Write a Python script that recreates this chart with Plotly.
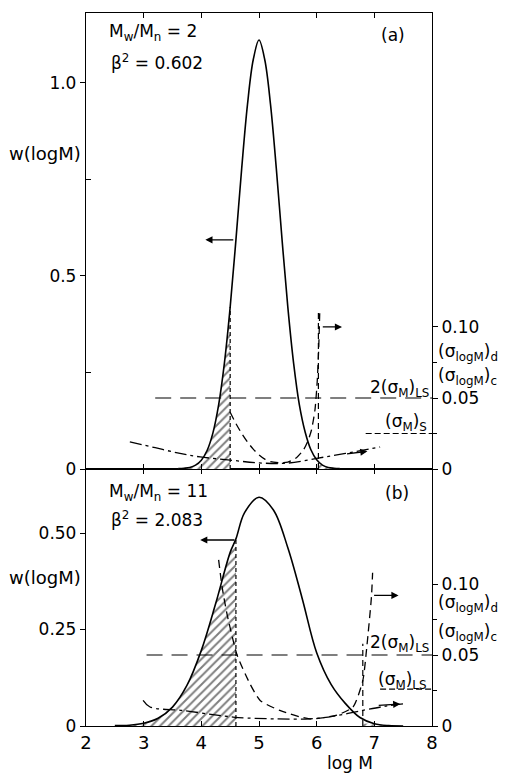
import plotly.graph_objects as go

# ---------------- data: panel (a) ----------------
logM_a = [3.6, 3.7, 3.8, 3.9, 4.0, 4.1, 4.2, 4.3, 4.4, 4.5, 4.6, 4.7, 4.8, 4.9, 5.0,
          5.1, 5.2, 5.3, 5.4, 5.5, 5.6, 5.7, 5.8, 5.9, 6.0, 6.1, 6.2, 6.3, 6.4]
w_a = [0.001, 0.002, 0.004, 0.010, 0.023, 0.048, 0.093, 0.166, 0.274, 0.419, 0.593, 0.778, 0.943, 1.059, 1.11,
       1.059, 0.943, 0.778, 0.593, 0.419, 0.274, 0.166, 0.096, 0.050, 0.024, 0.010, 0.004, 0.002, 0.001]
cut_a = [4.5, 6.03]          # lower / upper cut-off (log M)

sigd_a_x = [4.50, 4.6, 4.7, 4.8, 4.9, 5.0, 5.1, 5.2, 5.35, 5.5, 5.65, 5.77, 5.85, 5.91, 5.97, 6.01, 6.035, 6.055]
sigd_a = [0.040, 0.032, 0.025, 0.019, 0.014, 0.010, 0.007, 0.0052, 0.0044, 0.0048, 0.008, 0.0134, 0.020, 0.0275,
          0.0415, 0.062, 0.085, 0.113]
sigc_a_x = [2.76, 3.2, 3.63, 3.98, 4.5, 5.0, 5.5, 6.0, 6.5, 7.1]
sigc_a = [0.0192, 0.015, 0.011, 0.0085, 0.0063, 0.0043, 0.0042, 0.0075, 0.011, 0.0155]
hline_a_long = [3.2, 8.0, 0.05]
hline_a_short = [6.85, 8.0, 0.025]
vline_a_top = 0.11

# ---------------- data: panel (b) ----------------
logM_b = [2.5, 2.75, 3.0, 3.25, 3.5, 3.75, 4.0, 4.25, 4.5, 4.6, 4.75, 5.0, 5.25, 5.5, 5.75,
          6.0, 6.25, 6.5, 6.75, 7.0, 7.25, 7.5]
w_b = [0.001, 0.002, 0.007, 0.020, 0.049, 0.105, 0.196, 0.318, 0.450, 0.485, 0.553, 0.593, 0.560, 0.462, 0.330,
       0.190, 0.108, 0.058, 0.022, 0.006, 0.001, 0.0]
cut_b = [4.6, 6.8]

sigd_b_x = [4.30, 4.36, 4.45, 4.62, 4.84, 5.02, 5.36, 5.88, 6.35, 6.63, 6.80, 6.87, 6.95, 6.97]
sigd_b = [0.117, 0.098, 0.078, 0.050, 0.030, 0.018, 0.011, 0.005, 0.0077, 0.0134, 0.032, 0.056, 0.091, 0.108]
sigc_b_x = [2.99, 3.11, 3.68, 4.2, 4.55, 4.8, 5.3, 5.88, 6.3, 6.8, 7.2, 7.57]
sigc_b = [0.018, 0.0134, 0.011, 0.008, 0.0063, 0.0056, 0.005, 0.005, 0.007, 0.011, 0.014, 0.016]
hline_b_long = [3.05, 8.0, 0.05]
hline_b_short = [7.1, 8.0, 0.026]
vline_b_top = 0.058

x_ticks = [2, 3, 4, 5, 6, 7, 8]

FONT = "DejaVu Sans"
BLACK = "black"
HATCH = dict(shape="/", fgcolor=BLACK, bgcolor="white", size=6, solidity=0.33)

fig = go.Figure()


def panel(xs, ws, cut, sdx, sd, scx, sc, hl_long, hl_short, vtop, xa, yl, yr):
    # hatched tails
    lx = [x for x in xs if x <= cut[0]]
    lw = [w for x, w in zip(xs, ws) if x <= cut[0]]
    fig.add_trace(go.Scatter(x=lx, y=lw, mode="lines", line=dict(width=0, shape="spline"),
                             fill="tozeroy", fillcolor="white", fillpattern=HATCH,
                             xaxis=xa, yaxis=yl, hoverinfo="skip"))
    rx = [x for x in xs if x >= cut[1]]
    rw = [w for x, w in zip(xs, ws) if x >= cut[1]]
    fig.add_trace(go.Scatter(x=[cut[1]] + rx, y=[rw[0]] + rw, mode="lines", line=dict(width=0, shape="spline"),
                             fill="tozeroy", fillcolor="white", fillpattern=HATCH,
                             xaxis=xa, yaxis=yl, hoverinfo="skip"))
    # distribution
    fig.add_trace(go.Scatter(x=xs, y=ws, mode="lines", line=dict(color=BLACK, width=1.6, shape="spline"),
                             xaxis=xa, yaxis=yl))
    # vertical cut lines
    fig.add_trace(go.Scatter(x=[lx[-1], lx[-1]], y=[0, lw[-1]], mode="lines",
                             line=dict(color=BLACK, width=1.2, dash="4px,3px"), xaxis=xa, yaxis=yl))
    fig.add_trace(go.Scatter(x=[cut[1], cut[1]], y=[0, vtop], mode="lines",
                             line=dict(color=BLACK, width=1.2, dash="6px,4px"), xaxis=xa, yaxis=yr))
    # sigma curves
    fig.add_trace(go.Scatter(x=sdx, y=sd, mode="lines",
                             line=dict(color=BLACK, width=1.3, dash="8px,5px", shape="spline", smoothing=0.6),
                             xaxis=xa, yaxis=yr))
    fig.add_trace(go.Scatter(x=scx, y=sc, mode="lines",
                             line=dict(color=BLACK, width=1.3, dash="12px,4px,3px,4px", shape="spline"),
                             xaxis=xa, yaxis=yr))
    # horizontal reference lines
    fig.add_trace(go.Scatter(x=hl_long[:2], y=[hl_long[2]] * 2, mode="lines",
                             line=dict(color=BLACK, width=1.2, dash="16px,9px"), xaxis=xa, yaxis=yr))
    fig.add_trace(go.Scatter(x=hl_short[:2], y=[hl_short[2]] * 2, mode="lines",
                             line=dict(color=BLACK, width=1.2, dash="6px,3px"), xaxis=xa, yaxis=yr))


panel(logM_a, w_a, cut_a, sigd_a_x, sigd_a, sigc_a_x, sigc_a, hline_a_long, hline_a_short, vline_a_top,
      "x2", "y3", "y4")
panel(logM_b, w_b, cut_b, sigd_b_x, sigd_b, sigc_b_x, sigc_b, hline_b_long, hline_b_short, vline_b_top,
      "x", "y", "y2")

# arrows: (tail x, tail y, head x, head y, xref, yref)
arrows = [
    (4.58, 0.593, 4.07, 0.593, "x2", "y3"),
    (6.08, 0.100, 6.44, 0.100, "x2", "y4"),
    (6.50, 0.0105, 6.88, 0.0125, "x2", "y4"),
    (4.60, 0.482, 3.98, 0.482, "x", "y"),
    (6.97, 0.092, 7.42, 0.092, "x", "y2"),
    (7.05, 0.0145, 7.45, 0.0155, "x", "y2"),
]
ann = []
for tx, ty, hx, hy, xr, yr in arrows:
    ann.append(dict(x=hx, y=hy, ax=tx, ay=ty, xref=xr, yref=yr, axref=xr, ayref=yr, text="",
                    showarrow=True, arrowhead=2, arrowsize=1.1, arrowwidth=1.3, arrowcolor=BLACK))

tf = dict(family=FONT, size=17, color=BLACK)


def txt(x, y, s, xr, yr, xa="left", size=17):
    ann.append(dict(x=x, y=y, xref=xr, yref=yr, text=s, showarrow=False, xanchor=xa, yanchor="middle",
                    font=dict(family=FONT, size=size, color=BLACK)))


txt(2.36, 1.13, "M<sub>w</sub>/M<sub>n</sub> = 2", "x2", "y3")
txt(2.40, 1.053, "β<sup>2</sup> = 0.602", "x2", "y3")
txt(7.32, 1.124, "(a)", "x2", "y3", "center")
txt(2.36, 0.606, "M<sub>w</sub>/M<sub>n</sub> = 11", "x", "y")
txt(2.40, 0.537, "β<sup>2</sup> = 2.083", "x", "y")
txt(7.39, 0.604, "(b)", "x", "y", "center")

# axis titles and curve labels (paper coords)
txt(-0.008, 0.8036, "w(logM)", "paper", "paper", "right", 18)
txt(-0.008, 0.2076, "w(logM)", "paper", "paper", "right", 18)
txt(1.012, 0.5245, "(σ<sub>logM</sub>)<sub>d</sub>", "paper", "paper", "left", 17)
txt(1.012, 0.4895, "(σ<sub>logM</sub>)<sub>c</sub>", "paper", "paper", "left", 17)
txt(1.012, 0.1725, "(σ<sub>logM</sub>)<sub>d</sub>", "paper", "paper", "left", 17)
txt(1.012, 0.1318, "(σ<sub>logM</sub>)<sub>c</sub>", "paper", "paper", "left", 17)
txt(0.997, 0.474, "2(σ<sub>M</sub>)<sub>LS</sub>", "paper", "paper", "right", 17)
txt(0.992, 0.425, "(σ<sub>M</sub>)<sub>S</sub>", "paper", "paper", "right", 17)
txt(0.997, 0.1164, "2(σ<sub>M</sub>)<sub>LS</sub>", "paper", "paper", "right", 17)
txt(0.992, 0.0645, "(σ<sub>M</sub>)<sub>LS</sub>", "paper", "paper", "right", 17)
txt(6.58, -0.052, "log M", "x", "paper", "center", 17)

axis_common = dict(showgrid=False, zeroline=False, showline=True, linecolor=BLACK, linewidth=1.3,
                   tickcolor=BLACK, tickfont=tf)
split = 0.3604

fig.update_layout(
    width=508, height=773,
    margin=dict(l=78, r=84, t=5, b=55),
    paper_bgcolor="white", plot_bgcolor="white",
    showlegend=False,
    font=dict(family=FONT, color=BLACK),
    annotations=ann,
    xaxis=dict(domain=[0, 1], range=[2, 8], anchor="y", tickvals=x_ticks, ticks="inside", ticklen=5,
               mirror="ticks", **{**axis_common, "tickfont": dict(family=FONT, size=18, color=BLACK)}),
    yaxis=dict(domain=[0, split], range=[0, 0.666], anchor="x", tickvals=[0, 0.25, 0.5],
               ticktext=["0", "0.25", "0.50"], ticks="outside", ticklen=5, **axis_common),
    yaxis2=dict(range=[0, 0.181], overlaying="y", side="right", anchor="x", tickvals=[0, 0.05, 0.10],
                ticktext=["0", "0.05", "0.10"], ticks="outside", ticklen=5,
                minor=dict(tickvals=[0.025, 0.075], ticks="outside", ticklen=4, tickcolor=BLACK),
                **axis_common),
    xaxis2=dict(domain=[0, 1], range=[2, 8], anchor="y3", tickvals=x_ticks, showticklabels=False,
                ticks="inside", ticklen=5, mirror="ticks", **axis_common),
    yaxis3=dict(domain=[split, 1], range=[0, 1.18], anchor="x2", tickvals=[0, 0.5, 1.0],
                ticktext=["0", "0.5", "1.0"], ticks="outside", ticklen=5,
                minor=dict(tickvals=[0.25, 0.75], ticks="inside", ticklen=5, tickcolor=BLACK),
                **axis_common),
    yaxis4=dict(range=[0, 0.321], overlaying="y3", side="right", anchor="x2", tickvals=[0, 0.05, 0.10],
                ticktext=["0", "0.05", "0.10"], ticks="outside", ticklen=5,
                minor=dict(tickvals=[0.025, 0.075], ticks="outside", ticklen=4, tickcolor=BLACK),
                **axis_common),
)

fig.write_html("out.html")
